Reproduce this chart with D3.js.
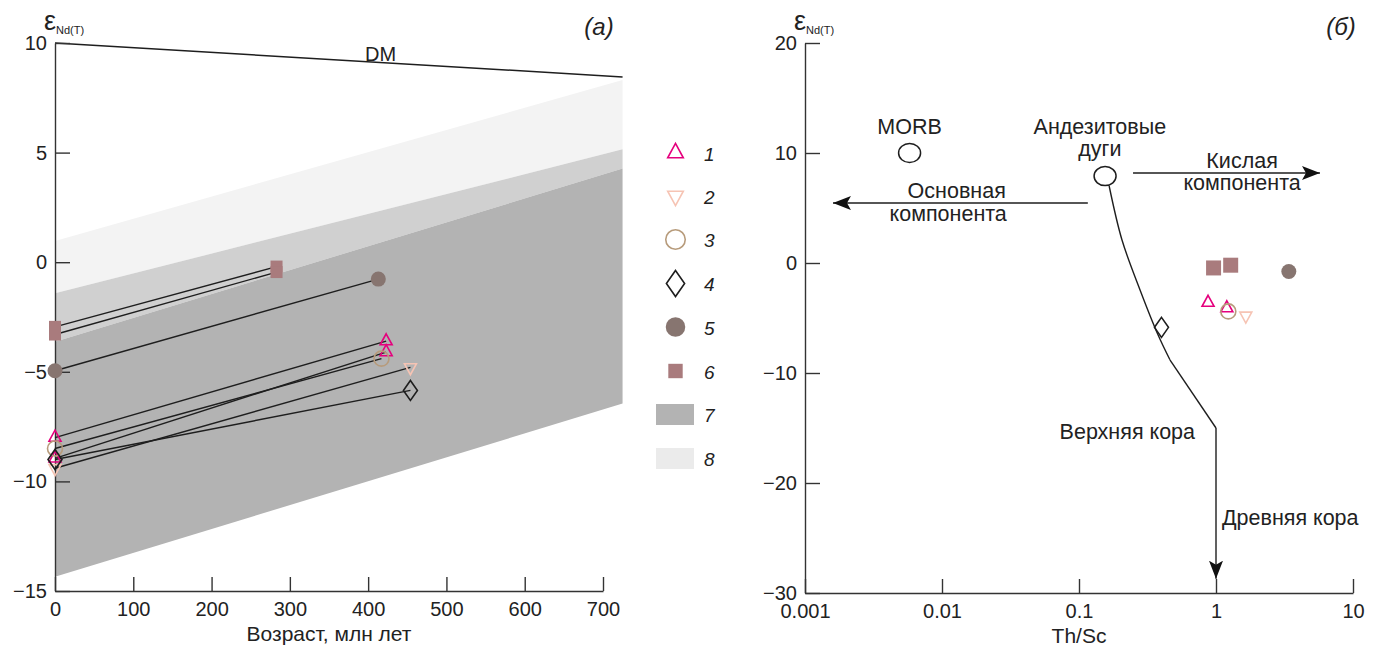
<!DOCTYPE html>
<html><head><meta charset="utf-8">
<script src="https://cdn.jsdelivr.net/npm/d3@7"></script>
<style>
body{margin:0;background:#fff;}
text{font-family:"Liberation Sans",Arial,sans-serif;fill:#222;}
</style></head>
<body><svg id="c" width="1381" height="648"></svg>
<script>
// ---------- data ----------
const groups = ["1","2","3","4","5","6"];
// samples: group, crystallisation age (Ma), eps Nd(T), eps Nd(0), Th/Sc
const sampleGroup = ["1","1","2","3","4","5","6","6"];
const sampleAge   = [423, 423, 454, 417, 454, 413, 283, 283];
const epsNdT      = [-3.6, -4.1, -4.8, -4.4, -5.85, -0.77, -0.2, -0.45];
const epsNd0      = [-8.0, -8.95, -9.4, -8.5, -9.0, -4.95, -2.95, -3.3];
const thSc        = [0.875, 1.2, 1.65, 1.23, 0.40, 3.40, 1.28, 0.96];

const xTicksA = [0,100,200,300,400,500,600,700];
const yTicksA = [10,5,0,-5,-10,-15];
const xTicksB = [0.001,0.01,0.1,1,10];
const xTickLabelsB = ["0.001","0.01","0.1","1","10"];
const yTicksB = [20,10,0,-10,-20,-30];

// DM evolution line and crust fields (age Ma, eps)
const dmAge = [0, 725], dmEps = [10, 8.45];
const fieldAge = [0, 725];
const field8Top = [0.97, 8.31];
const fieldMidTop = [-1.42, 5.15];
const field7Top = [-3.63, 4.27];
const field7Bottom = [-14.35, -6.45];

// panel b reference components
const morb = {x:0.0058, y:10};
const andesite = {x:0.155, y:7.9};
const mixCurveX = [0.166, 0.206, 0.279, 0.378, 0.461];
const mixCurveY = [7.0, 2.09, -2.45, -6.55, -8.8];
const upperCrust = {x:1.0, y:-15.0};
const oldCrustArrow = {x:1, y0:-15.0, y1:-28.7};
const felsicArrow = {x0:0.248, x1:5.74, y:8.18};
const maficArrow = {x0:0.116, x1:0.0016, y:5.45};

const legendLabels = ["1","2","3","4","5","6","7","8"];

// ---------- styles ----------
const style = {
  "1":{type:"triUp", stroke:"#e5007d", fill:"none"},
  "2":{type:"triDown", stroke:"#f6c4b4", fill:"none"},
  "3":{type:"circle", stroke:"#b79b7b", fill:"none"},
  "4":{type:"diamond", stroke:"#1e1e1e", fill:"none"},
  "5":{type:"circle", stroke:"none", fill:"#877570"},
  "6":{type:"square", stroke:"none", fill:"#a97b7d"}
};
function shapePath(type, s){
  if(type==="triUp"){const w=6*s,h=11*s;return `M0,${-h*2/3}L${w},${h/3}L${-w},${h/3}Z`;}
  if(type==="triDown"){const w=6*s,h=11*s;return `M0,${h*2/3}L${w},${-h/3}L${-w},${-h/3}Z`;}
  if(type==="diamond"){const w=7*s,h=10*s;return `M0,${-h}L${w},0L0,${h}L${-w},0Z`;}
  if(type==="circle"){const r=7.5*s;return `M${r},0A${r},${r} 0 1,1 ${-r},0A${r},${r} 0 1,1 ${r},0Z`;}
  if(type==="square"){const a=6*s;return `M${-a},${-a}H${a}V${a}H${-a}Z`;}
}
function drawMarker(g, grp, x, y, s){
  const st = style[grp];
  g.append("path").attr("d", shapePath(st.type, s)).attr("transform",`translate(${x},${y})`)
    .attr("fill", st.fill).attr("stroke", st.stroke).attr("stroke-width", 1.6);
}

const svg = d3.select("#c");
const defs = svg.append("defs");
defs.append("marker").attr("id","ah").attr("markerUnits","userSpaceOnUse")
  .attr("markerWidth",20).attr("markerHeight",14).attr("refX",18).attr("refY",7).attr("orient","auto")
  .append("path").attr("d","M0,0L18,7L0,14L4,7Z").attr("fill","#111");

// ================= panel a =================
const xA = d3.scaleLinear().domain([0,700]).range([55,603]);
const yA = d3.scaleLinear().domain([-15,10]).range([591,43]);
const gA = svg.append("g");

function band(top, bottom, color){
  const pts = [[fieldAge[0],top[0]],[fieldAge[1],top[1]],[fieldAge[1],bottom[1]],[fieldAge[0],bottom[0]]];
  gA.append("path").attr("d", d3.line().x(d=>xA(d[0])).y(d=>yA(d[1]))(pts)+"Z").attr("fill",color);
}
band(field8Top, fieldMidTop, "#f3f3f3");
band(fieldMidTop, field7Top, "#d0d0d0");
band(field7Top, field7Bottom, "#b3b3b3");

gA.append("line").attr("x1",xA(dmAge[0])).attr("y1",yA(dmEps[0])).attr("x2",xA(dmAge[1])).attr("y2",yA(dmEps[1]))
  .attr("stroke","#1e1e1e").attr("stroke-width",1.5);
gA.append("text").attr("x",xA(416)).attr("y",yA(9.18)).attr("text-anchor","middle").attr("font-size",20).text("DM");

// axes
const axA_y = gA.append("g").attr("transform",`translate(${xA(0)},0)`)
  .call(d3.axisLeft(yA).tickValues(yTicksA).tickSizeInner(-15).tickSizeOuter(0).tickPadding(8));
const axA_x = gA.append("g").attr("transform",`translate(0,${yA(-15)})`)
  .call(d3.axisBottom(xA).tickValues(xTicksA).tickSizeInner(-14).tickSizeOuter(0).tickPadding(11));
[axA_y, axA_x].forEach(a=>{
  a.selectAll("path,line").attr("stroke","#333").attr("stroke-width",1.4);
  a.selectAll("text").attr("font-size",20).attr("fill","#222").attr("font-family","Liberation Sans, Arial, sans-serif");
});

// sample evolution lines
sampleAge.forEach((t,i)=>{
  gA.append("line").attr("x1",xA(0)).attr("y1",yA(epsNd0[i])).attr("x2",xA(t)).attr("y2",yA(epsNdT[i]))
    .attr("stroke","#1e1e1e").attr("stroke-width",1.4);
});
sampleAge.forEach((t,i)=>{
  drawMarker(gA, sampleGroup[i], xA(0), yA(epsNd0[i]), 1);
  drawMarker(gA, sampleGroup[i], xA(t), yA(epsNdT[i]), 1);
});

gA.append("text").attr("x",xA(350)).attr("y",641).attr("text-anchor","middle").attr("font-size",21).text("Возраст, млн лет");
const eA = gA.append("text").attr("x",44).attr("y",30);
eA.append("tspan").attr("font-size",27).text("ε");
eA.append("tspan").attr("font-size",11).attr("dy",4).text("Nd(T)");
gA.append("text").attr("x",599).attr("y",35).attr("text-anchor","middle").attr("font-size",24)
  .attr("font-family","Noto Sans, sans-serif").attr("font-style","italic").text("(а)");

// legend
const legY = [153, 196, 239.5, 283.5, 327, 371, 414.5, 458.5];
legendLabels.forEach((lab,i)=>{
  const y = legY[i];
  if(i<6){ drawMarker(svg, groups[i], 675.5, y, i===5?1.2:1.3); }
  else { svg.append("rect").attr("x",656).attr("y",y-10.5).attr("width",38).attr("height",21)
      .attr("fill", i===6?"#b3b3b3":"#ebebeb"); }
  svg.append("text").attr("x",704).attr("y",y+7.5).attr("font-size",19).attr("font-style","italic").text(lab);
});

// ================= panel b =================
const xB = d3.scaleLog().domain([0.001,10]).range([805,1353]);
const yB = d3.scaleLinear().domain([-30,20]).range([593,43]);
const gB = svg.append("g");

const axB_y = gB.append("g").attr("transform",`translate(${xB(0.001)},0)`)
  .call(d3.axisLeft(yB).tickValues(yTicksB).tickSizeInner(-15).tickSizeOuter(0).tickPadding(8));
const axB_x = gB.append("g").attr("transform",`translate(0,${yB(-30)})`)
  .call(d3.axisBottom(xB).tickValues(xTicksB).tickFormat((d,i)=>xTickLabelsB[i]).tickSizeInner(-14).tickSizeOuter(0).tickPadding(11));
[axB_y, axB_x].forEach(a=>{
  a.selectAll("path,line").attr("stroke","#333").attr("stroke-width",1.4);
  a.selectAll("text").attr("font-size",20).attr("fill","#222").attr("font-family","Liberation Sans, Arial, sans-serif");
});

// reference components
[morb, andesite].forEach(p=>{
  gB.append("ellipse").attr("cx",xB(p.x)).attr("cy",yB(p.y)).attr("rx",11).attr("ry",9.5)
    .attr("fill","#fff").attr("stroke","#1e1e1e").attr("stroke-width",1.5);
});
gB.append("path").attr("d", d3.line().x((d,i)=>xB(mixCurveX[i])).y((d,i)=>yB(mixCurveY[i])).curve(d3.curveCatmullRom.alpha(0.5))(mixCurveX))
  .attr("fill","none").attr("stroke","#1e1e1e").attr("stroke-width",1.4);
gB.append("line").attr("x1",xB(mixCurveX[mixCurveX.length-1])).attr("y1",yB(mixCurveY[mixCurveY.length-1]))
  .attr("x2",xB(upperCrust.x)).attr("y2",yB(upperCrust.y))
  .attr("stroke","#1e1e1e").attr("stroke-width",1.4);
gB.append("line").attr("x1",xB(oldCrustArrow.x)).attr("y1",yB(oldCrustArrow.y0)).attr("x2",xB(oldCrustArrow.x)).attr("y2",yB(oldCrustArrow.y1))
  .attr("stroke","#1e1e1e").attr("stroke-width",1.4).attr("marker-end","url(#ah)");
gB.append("line").attr("x1",xB(felsicArrow.x0)).attr("y1",yB(felsicArrow.y)).attr("x2",xB(felsicArrow.x1)).attr("y2",yB(felsicArrow.y))
  .attr("stroke","#1e1e1e").attr("stroke-width",1.4).attr("marker-end","url(#ah)");
gB.append("line").attr("x1",xB(maficArrow.x0)).attr("y1",yB(maficArrow.y)).attr("x2",xB(maficArrow.x1)).attr("y2",yB(maficArrow.y))
  .attr("stroke","#1e1e1e").attr("stroke-width",1.4).attr("marker-end","url(#ah)");

// samples
thSc.forEach((v,i)=>{ drawMarker(gB, sampleGroup[i], xB(v), yB(epsNdT[i]), sampleGroup[i]==="6"?1.25:1); });

// annotations
const ann = [
  {t:"MORB", x:0.0058, y:11.7, a:"middle"},
  {t:"Андезитовые", x:0.142, y:11.7, a:"middle"},
  {t:"дуги", x:0.142, y:9.7, a:"middle"},
  {t:"Кислая", x:1.55, y:8.6, a:"middle"},
  {t:"компонента", x:1.55, y:6.6, a:"middle"},
  {t:"Основная", x:0.0128, y:5.9, a:"middle"},
  {t:"компонента", x:0.0111, y:3.85, a:"middle"},
  {t:"Верхняя кора", x:0.703, y:-16.0, a:"end"},
  {t:"Древняя кора", x:1.106, y:-23.8, a:"start"}
];
ann.forEach(d=>{
  gB.append("text").attr("x",xB(d.x)).attr("y",yB(d.y)).attr("text-anchor",d.a).attr("font-size",21.5).text(d.t);
});
gB.append("text").attr("x",xB(0.1)).attr("y",643).attr("text-anchor","middle").attr("font-size",21).text("Th/Sc");
const eB = gB.append("text").attr("x",794).attr("y",30);
eB.append("tspan").attr("font-size",27).text("ε");
eB.append("tspan").attr("font-size",11).attr("dy",4).text("Nd(T)");
gB.append("text").attr("x",1341).attr("y",35).attr("text-anchor","middle").attr("font-size",24)
  .attr("font-family","Noto Sans, sans-serif").attr("font-style","italic").text("(б)");
</script></body></html>
